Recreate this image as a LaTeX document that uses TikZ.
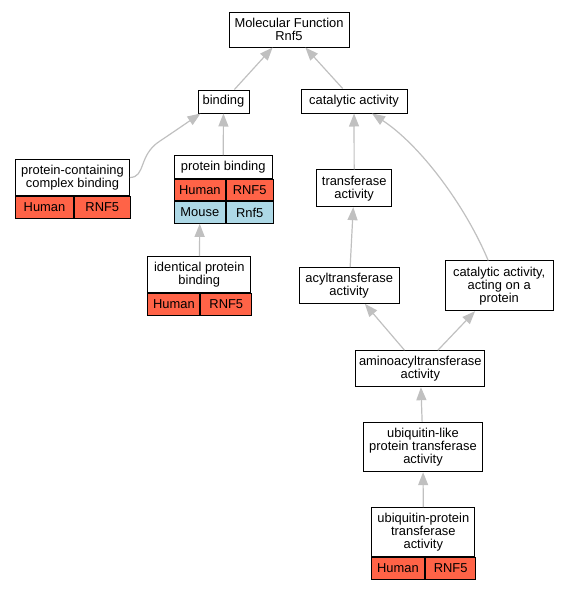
\documentclass[tikz,border=0pt]{standalone}
\usepackage{fontspec}
\setmainfont{Liberation Sans}
\usetikzlibrary{arrows.meta}
\definecolor{humanred}{RGB}{255,99,71}
\definecolor{mouseblue}{RGB}{173,216,230}
\definecolor{edgegray}{RGB}{192,192,192}
\newcommand{\termfont}{\fontsize{12.9}{13}\selectfont}
\tikzset{
term/.style={draw=black, line width=1pt, fill=white, align=center, inner sep=0pt, font=\termfont},
human/.style={term, fill=humanred, anchor=north west, minimum height=21.5},
mouse/.style={term, fill=mouseblue, anchor=north west, minimum height=21.5},
isa/.style={draw=edgegray, line width=1.2pt, -{Triangle[length=13pt,width=10pt]}},
}

\begin{document}
\begin{tikzpicture}[x=1pt,y=-1pt]
\useasboundingbox (0,0) rectangle (568,589);

% Terms
\node[term, minimum width=120, minimum height=35] (mf) at (289,29.5) {Molecular Function\\Rnf5};
\node[term, minimum width=51, minimum height=23] (bind) at (223.5,101.5) {binding};
\node[term, minimum width=106, minimum height=24] (cat) at (354,101) {catalytic activity};

% protein-containing complex binding
\node[term, minimum width=113.6, minimum height=36.4] (pcc) at (72.5,177.5) {protein-containing\\complex binding};
\node[human, minimum width=57.6] (pcch) at (pcc.south west) {Human};
\node[human, minimum width=56] (pccg) at (pcch.north east) {RNF5};

% protein binding
\node[term, minimum width=97.7, minimum height=22.6] (pb) at (223.2,167) {protein binding};
\node[human, minimum width=51] (pbh) at (pb.south west) {Human};
\node[human, minimum width=46.7] (pbg) at (pbh.north east) {RNF5};
\node[mouse, minimum width=51] (pbm) at (pbh.south west) {Mouse};
\node[mouse, minimum width=46.7] (pbmg) at (pbm.north east) {Rnf5};

% identical protein binding
\node[term, minimum width=102.7, minimum height=35.6] (ipb) at (199.3,274.5) {identical protein\\binding};
\node[human, minimum width=52, minimum height=22.4] (ipbh) at (ipb.south west) {Human};
\node[human, minimum width=50.7, minimum height=22.4] (ipbg) at (ipbh.north east) {RNF5};

\node[term, minimum width=75, minimum height=36.7] (trans) at (354.2,188.3) {transferase\\activity};
\node[term, minimum width=99.7, minimum height=35.6] (acyl) at (349.2,285.5) {acyltransferase\\activity};
\node[term, minimum width=108.3, minimum height=49.7] (act) at (499.2,285.8) {catalytic activity,\\acting on a\\protein};
\node[term, minimum width=129.3, minimum height=36] (amino) at (420.3,368.7) {aminoacyltransferase\\activity};
\node[term, minimum width=119.4, minimum height=49.4] (ubl) at (423,447) {ubiquitin-like\\protein transferase\\activity};

% ubiquitin-protein transferase activity
\node[term, minimum width=103.3, minimum height=49] (upt) at (423.3,532.2) {ubiquitin-protein\\transferase\\activity};
\node[human, minimum width=52.6] (upth) at (upt.south west) {Human};
\node[human, minimum width=50.7] (uptg) at (upth.north east) {RNF5};

% is_a edges
\draw[isa] (bind) -- (mf);
\draw[isa] (cat) -- (mf);
\draw[isa] (pb) -- (bind);
\draw[isa] (pcc.east) .. controls (146,177.5) and (138,155) .. (160,141) .. controls (175,131) and (188,122) .. ([xshift=3pt]bind.south west);
\draw[isa] (ipb) -- (pbm);
\draw[isa] (trans) -- (cat);
\draw[isa] ([xshift=-11pt]act.north) .. controls (465,205) and (420,145) .. ([xshift=18pt]cat.south);
\draw[isa] (acyl) -- (trans);
\draw[isa] (amino) -- (acyl);
\draw[isa] (amino) -- (act);
\draw[isa] (ubl) -- (amino);
\draw[isa] (upt) -- (ubl);

\end{tikzpicture}
\end{document}
